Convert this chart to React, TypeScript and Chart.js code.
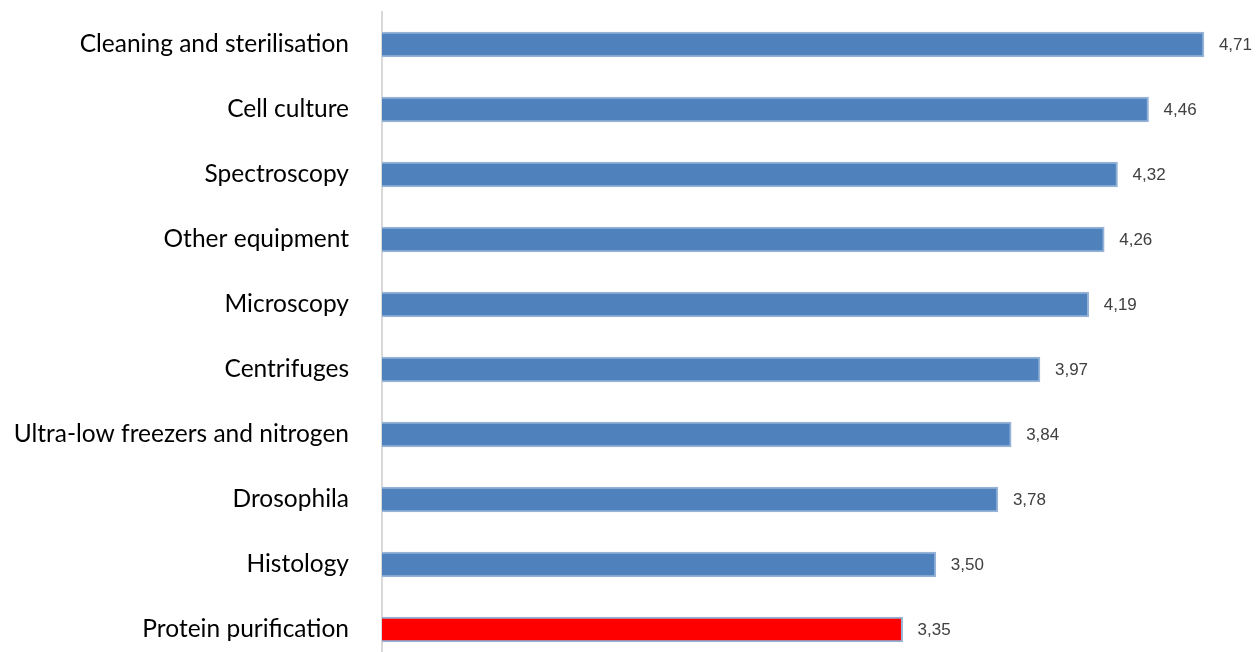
import React, { useEffect, useRef } from "react";
import { Chart, registerables } from "chart.js";

Chart.register(...registerables);

const categories: string[] = [
  "Cleaning and sterilisation",
  "Cell culture",
  "Spectroscopy",
  "Other equipment",
  "Microscopy",
  "Centrifuges",
  "Ultra-low freezers and nitrogen",
  "Drosophila",
  "Histology",
  "Protein purification",
];

const values: number[] = [4.71, 4.46, 4.32, 4.26, 4.19, 3.97, 3.84, 3.78, 3.5, 3.35];

const barColors: string[] = [
  "#4f81bd", "#4f81bd", "#4f81bd", "#4f81bd", "#4f81bd",
  "#4f81bd", "#4f81bd", "#4f81bd", "#4f81bd", "#ff0000",
];

const axisMin = 1;
const axisMax = 4.9;

const valueLabelPlugin = {
  id: "valueLabels",
  afterDatasetsDraw(chart: any) {
    const ctx = chart.ctx;
    const meta = chart.getDatasetMeta(0);
    ctx.save();
    ctx.font = "17px 'Liberation Sans', Arial, sans-serif";
    ctx.fillStyle = "#404040";
    ctx.textAlign = "left";
    ctx.textBaseline = "middle";
    meta.data.forEach((bar: any, i: number) => {
      const v = chart.data.datasets[0].data[i] as number;
      ctx.fillText(v.toFixed(2).replace(".", ","), bar.x + 15, bar.y + 1);
    });
    ctx.restore();
  },
};

export default function App() {
  const canvasRef = useRef<HTMLCanvasElement | null>(null);

  useEffect(() => {
    if (!canvasRef.current) return;
    const chart = new Chart(canvasRef.current, {
      type: "bar",
      data: {
        labels: categories,
        datasets: [
          {
            data: values,
            backgroundColor: barColors,
            borderColor: "#95b3d7",
            borderWidth: 2,
            borderSkipped: false,
            barThickness: 25,
          },
        ],
      },
      options: {
        indexAxis: "y",
        responsive: false,
        animation: false,
        devicePixelRatio: 1,
        layout: { padding: { top: 12, right: 13, bottom: 13, left: 0 } },
        plugins: {
          legend: { display: false },
          tooltip: { enabled: false },
          title: { display: false },
        },
        scales: {
          x: {
            type: "linear",
            min: axisMin,
            max: axisMax,
            display: false,
          },
          y: {
            type: "category",
            offset: true,
            grid: { display: false, drawTicks: false },
            border: { display: true, color: "#d9d9d9", width: 2 },
            ticks: {
              color: "#000000",
              padding: 33,
              font: { family: "Lato, 'Open Sans', sans-serif", size: 24.5 },
            },
            afterFit: (scale: any) => {
              scale.width = 382;
              scale.paddingTop = 0;
              scale.paddingBottom = 0;
            },
          },
        },
      },
      plugins: [valueLabelPlugin],
    });
    return () => chart.destroy();
  }, []);

  return (
    <div
      style={{
        position: "fixed",
        left: 0,
        top: 0,
        width: 1259,
        height: 652,
        overflow: "hidden",
        background: "#ffffff",
      }}
    >
      <canvas ref={canvasRef} width={1259} height={675} style={{ display: "block" }} />
    </div>
  );
}
